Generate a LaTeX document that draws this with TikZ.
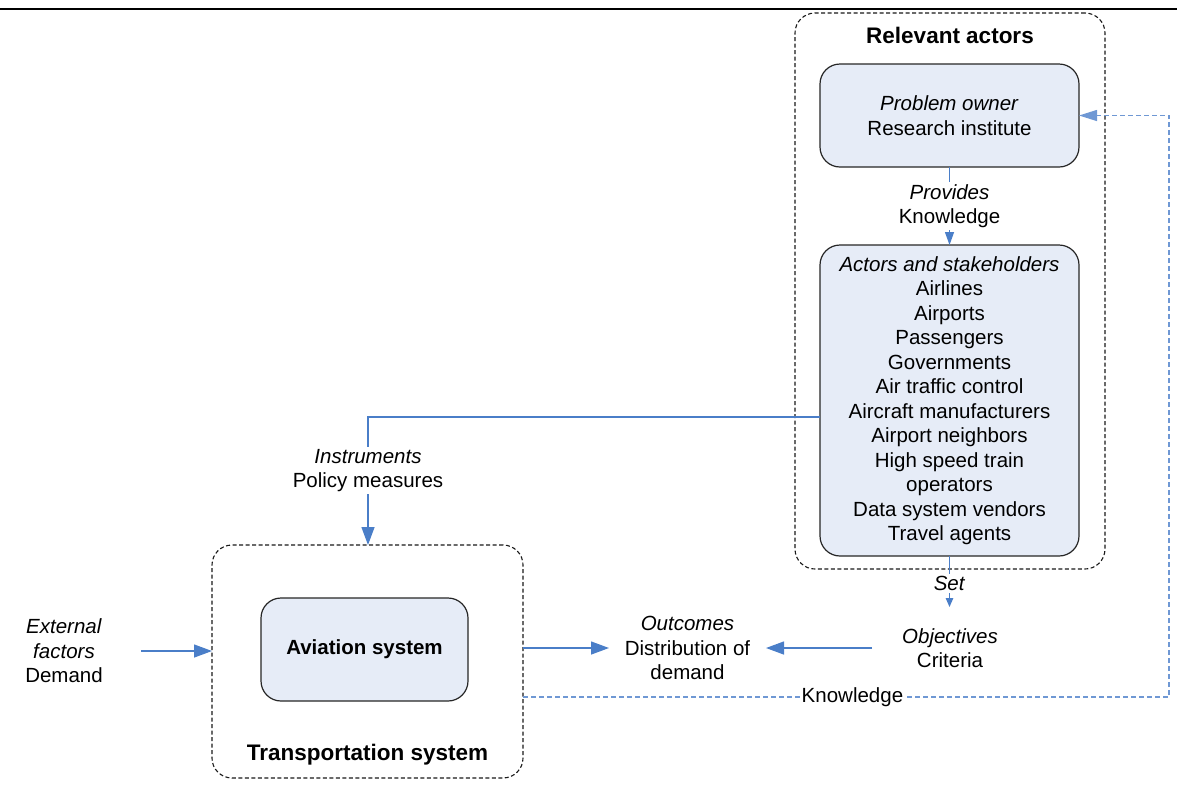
\documentclass[tikz,border=0pt]{standalone}
\usepackage{fontspec}
\setmainfont{Liberation Sans}
\usetikzlibrary{arrows.meta}
\definecolor{boxfill}{HTML}{E6ECF7}
\definecolor{conblue}{HTML}{4A7EC8}
\definecolor{knblue}{HTML}{6F98D4}
\definecolor{edgegray}{HTML}{262626}
\begin{document}
\begin{tikzpicture}[x=1pt,y=-1pt,
  every node/.style={font=\fontsize{20.5}{24.5}\selectfont, inner sep=0pt, outer sep=0pt},
  solidbox/.style={draw=edgegray, line width=1.2pt, fill=boxfill, rounded corners=20pt, align=center},
  groupbox/.style={draw=black!90, line width=1.1pt, dash pattern=on 4pt off 2.5pt, rounded corners=20pt},
  titletext/.style={font=\fontsize{22.5}{26}\selectfont\bfseries},
  conn/.style={draw=conblue, line width=1.3pt},
  bigtip/.style={-{Triangle[length=18pt,width=13pt]}},
  lbl/.style={fill=white, align=center, inner sep=2pt},
  txt/.style={align=center},
  kn/.style={draw=knblue, line width=1.2pt, dash pattern=on 5pt off 3pt}]
\useasboundingbox (0,0) rectangle (1177,785);

% top rule
\coordinate (tl) at (0,9);
\coordinate (tr) at (1177,9);
\draw[line width=2.6pt] (tl) -- (tr);

% relevant actors group
\node[groupbox, minimum width=310pt, minimum height=556pt] (relbox) at (950,291) {};
\node[titletext] (reltitle) at (950,35) {Relevant actors};
\node[solidbox, minimum width=259pt, minimum height=103pt] (owner) at (949.5,115.5)
  {\textit{Problem owner}\\Research institute};
\node[solidbox, minimum width=259pt, minimum height=311pt] (actors) at (949.5,400.5)
  {\textit{Actors and stakeholders}\\Airlines\\Airports\\Passengers\\Governments\\Air traffic control\\Aircraft manufacturers\\Airport neighbors\\High speed train\\operators\\Data system vendors\\Travel agents};

% transportation system group
\node[groupbox, minimum width=311pt, minimum height=233pt] (transbox) at (367.5,661.5) {};
\node[titletext] (transtitle) at (367.5,755) {Transportation system};
\node[solidbox, minimum width=207pt, minimum height=103pt, font=\fontsize{20.5}{24.5}\selectfont\bfseries] (aviation) at (364.5,649.5) {Aviation system};

% free texts
\node[txt, minimum width=154pt] (external) at (64,651) {\textit{External}\\\textit{factors}\\Demand};
\node[txt, minimum width=157pt] (outcomes) at (687.5,648) {\textit{Outcomes}\\Distribution of\\demand};
\node[txt, minimum width=156pt] (objectives) at (950,648) {\textit{Objectives}\\Criteria};

% connectors
\draw[conn, bigtip] (external.east) -- (external.east -| transbox.west);
\draw[conn, bigtip] (transbox.east |- outcomes.west) -- (outcomes.west);
\draw[conn, bigtip] (objectives.west) -- (outcomes.east);
\draw[conn, -{Triangle[length=13pt,width=9pt]}] (owner.south) -- node[lbl]{\textit{Provides}\\Knowledge} (actors.north);
\coordinate (setend) at (949.5,607);
\draw[conn, -{Triangle[length=9pt,width=7.5pt]}] (actors.south) -- node[lbl, pos=0.54]{\textit{Set}} (setend);
\coordinate (ibend) at (368,417);
\draw[conn, bigtip] (ibend -| actors.west) -- (ibend) -- node[lbl, pos=0.42]{\textit{Instruments}\\Policy measures} (ibend |- transbox.north);
\coordinate (kbr) at (1169,697);
\coordinate (ktr) at (1169,115.5);
\draw[kn, -{Triangle[length=18pt,width=11pt]}] (transbox.east |- kbr) -- node[lbl, pos=0.51]{Knowledge} (kbr) -- (ktr) -- (owner.east);
\end{tikzpicture}
\end{document}
